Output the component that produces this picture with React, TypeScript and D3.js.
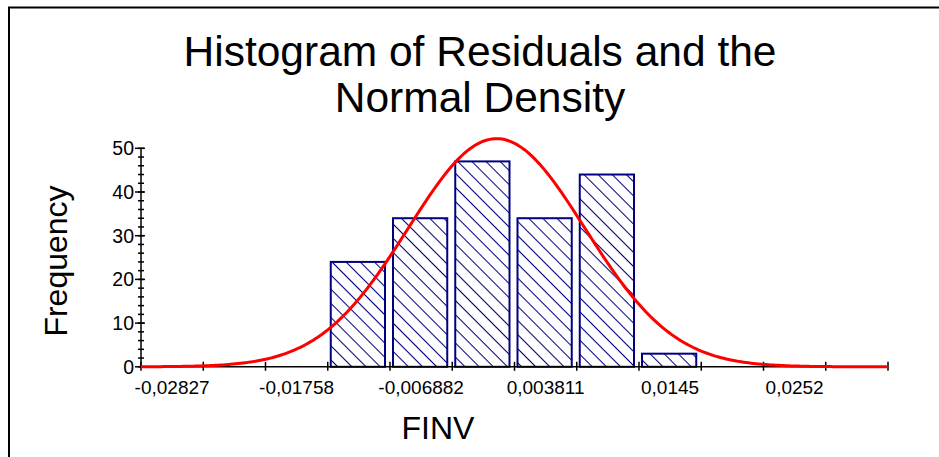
import { useMemo } from "react";
import * as d3 from "d3";

const WIDTH = 939;
const HEIGHT = 457;

// x tick labels sit on every other bin centre
const X_LABELS = ["-0,02827", "-0,01758", "-0,006882", "0,003811", "0,0145", "0,0252"];
const X_LABEL_VALUES = [-0.02827, -0.01758, -0.006882, 0.003811, 0.0145, 0.0252];
const BIN_WIDTH = 0.005347;
// frequency per bin (12 bins across the axis)
const BIN_COUNTS = [0, 0, 0, 24, 34, 47, 34, 44, 3, 0, 0, 0];
const Y_TICKS = [0, 10, 20, 30, 40, 50];
const Y_MINOR = d3.range(0, 51, 2);
// fitted normal parameters
const FIT_MEAN = -0.0004;
const FIT_SD = 0.0076;

const FONT = "'Liberation Sans', Arial, sans-serif";
const NAVY = "#000080";

const App = () => {
  const x0 = X_LABEL_VALUES[0] - BIN_WIDTH / 2;
  const x1 = x0 + BIN_COUNTS.length * BIN_WIDTH;

  const xScale = useMemo(() => d3.scaleLinear().domain([x0, x1]).range([141, 888]), [x0, x1]);
  const yScale = useMemo(() => d3.scaleLinear().domain([0, 50]).range([366.8, 148.3]), []);

  const bins = BIN_COUNTS.map((count, i) => ({
    start: x0 + i * BIN_WIDTH,
    end: x0 + (i + 1) * BIN_WIDTH,
    count,
  }));

  const total = d3.sum(BIN_COUNTS);

  const curvePath = useMemo(() => {
    const pts = d3.range(0, 301).map((i) => {
      const v = x0 + ((x1 - x0) * i) / 300;
      const z = (v - FIT_MEAN) / FIT_SD;
      const dens = Math.exp(-0.5 * z * z) / (FIT_SD * Math.sqrt(2 * Math.PI));
      return [v, total * BIN_WIDTH * dens] as [number, number];
    });
    return d3
      .line<[number, number]>()
      .x((d) => xScale(d[0]))
      .y((d) => yScale(d[1]))(pts);
  }, [xScale, yScale, x0, x1, total]);

  const axisY = yScale(0);
  const axisX = xScale(x0);

  return (
    <svg
      width={WIDTH}
      height={HEIGHT}
      style={{ position: "absolute", left: 0, top: 0, background: "#fff" }}
      fontFamily={FONT}
    >
      <defs>
        <pattern
          id="hatch"
          patternUnits="userSpaceOnUse"
          width={10}
          height={10}
          patternTransform="rotate(45)"
        >
          <rect width={10} height={10} fill="#fff" />
          <line x1={0} y1={0.5} x2={10} y2={0.5} stroke={NAVY} strokeWidth={1.1} />
        </pattern>
      </defs>

      {/* frame */}
      <rect x={9} y={7.5} width={1000} height={500} fill="none" stroke="#000" strokeWidth={2} />

      {/* title */}
      <text x={480} y={65.5} textAnchor="middle" fontSize={42.5} fill="#000">
        Histogram of Residuals and the
      </text>
      <text x={480} y={111.5} textAnchor="middle" fontSize={42.5} fill="#000">
        Normal Density
      </text>

      {/* bars */}
      {bins
        .filter((b) => b.count > 0)
        .map((b, i) => (
          <rect
            key={i}
            x={xScale(b.start) + 3}
            y={yScale(b.count)}
            width={xScale(b.end) - xScale(b.start) - 8}
            height={axisY - yScale(b.count)}
            fill="url(#hatch)"
            stroke={NAVY}
            strokeWidth={2}
          />
        ))}

      {/* x axis */}
      <line x1={axisX} x2={xScale(x1)} y1={axisY} y2={axisY} stroke="#000" strokeWidth={1.5} />
      {bins.concat([{ start: x1, end: x1, count: 0 }]).map((b, i) => (
        <line
          key={i}
          x1={xScale(b.start)}
          x2={xScale(b.start)}
          y1={axisY - 5}
          y2={axisY + 4}
          stroke="#000"
          strokeWidth={1.5}
        />
      ))}
      {X_LABELS.map((lab, i) => (
        <text
          key={lab}
          x={xScale(X_LABEL_VALUES[i])}
          y={394}
          textAnchor="middle"
          fontSize={19}
          fill="#000"
        >
          {lab}
        </text>
      ))}

      {/* y axis */}
      <line x1={axisX} x2={axisX} y1={axisY} y2={yScale(50)} stroke="#000" strokeWidth={1.5} />
      {Y_MINOR.map((v) => (
        <line
          key={v}
          x1={axisX - 3}
          x2={axisX + 3}
          y1={yScale(v)}
          y2={yScale(v)}
          stroke="#000"
          strokeWidth={1.5}
        />
      ))}
      {Y_TICKS.map((v) => (
        <g key={v}>
          <line
            x1={axisX - 6}
            x2={axisX + 4}
            y1={yScale(v)}
            y2={yScale(v)}
            stroke="#000"
            strokeWidth={1.5}
          />
          <text x={134} y={yScale(v)} dy="0.36em" textAnchor="end" fontSize={19.5} fill="#000">
            {v}
          </text>
        </g>
      ))}

      {/* normal density */}
      <path d={curvePath ?? ""} fill="none" stroke="#ff0000" strokeWidth={3} />

      {/* axis titles */}
      <text
        transform="translate(67,261) rotate(-90)"
        textAnchor="middle"
        fontSize={32}
        fill="#000"
      >
        Frequency
      </text>
      <text x={438} y={439} textAnchor="middle" fontSize={32} fill="#000">
        FINV
      </text>
    </svg>
  );
};

export default App;
